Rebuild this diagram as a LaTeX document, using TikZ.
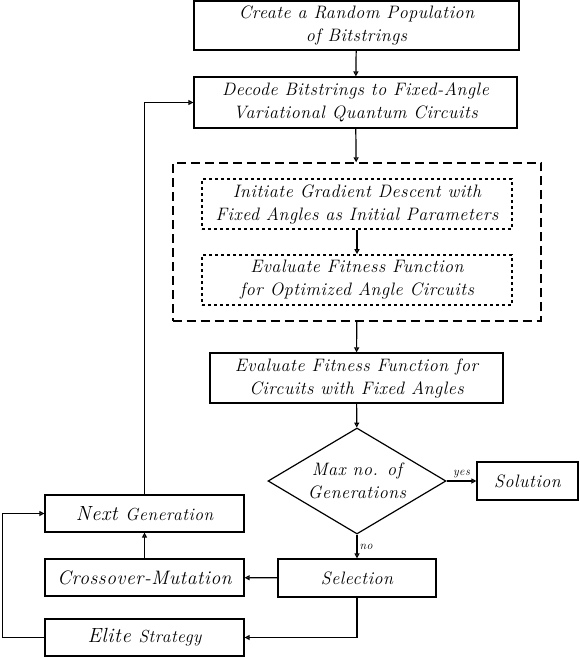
\documentclass[tikz,border=0pt]{standalone}
\usepackage{amsmath}
\usepackage{fontspec}
\setmainfont{Latin Modern Roman}[LetterSpace=3]
\usepackage{tikz}
\usetikzlibrary{shapes.geometric, arrows.meta, positioning, fit, calc}

\begin{document}
\begin{tikzpicture}[
    x=1pt, y=-1pt,
    box/.style={rectangle, draw, line width=1.2pt, align=center, inner sep=0pt, font=\fontsize{18}{23}\selectfont\itshape},
    dotbox/.style={box, dash pattern=on 3pt off 3pt, line width=1.6pt},
    group/.style={rectangle, draw, dash pattern=on 9pt off 5pt, line width=1.8pt, inner xsep=28.5pt, inner ysep=15pt},
    decision/.style={diamond, draw, line width=1.2pt, align=center, inner sep=0pt, aspect=1.68, minimum width=178pt, minimum height=106pt, font=\fontsize{18}{23}\selectfont\itshape},
    arrow/.style={-{Triangle[open,length=5pt,width=5pt]}, line width=1.2pt},
    lbl/.style={font=\fontsize{12}{13}\selectfont\itshape, inner sep=2pt}
]
\useasboundingbox (0,0) rectangle (580,658);

% main column
\node[box, minimum width=325pt, minimum height=49pt] (create) at (356.5,25.5) {Create a Random Population\\of Bitstrings};
\node[box, minimum width=323pt, minimum height=51pt] (decode) at (355.5,102.5) {Decode Bitstrings to Fixed-Angle\\Variational Quantum Circuits};
\node[dotbox, minimum width=310pt, minimum height=50pt] (init) at (357,204) {Initiate Gradient Descent with\\Fixed Angles as Initial Parameters};
\node[dotbox, minimum width=310pt, minimum height=50pt] (evalopt) at (357,280) {Evaluate Fitness Function\\for Optimized Angle Circuits};
\node[group, fit=(init)(evalopt)] (gradient) {};
\node[box, minimum width=293pt, minimum height=50pt] (evalfix) at (356.5,378) {Evaluate Fitness Function for\\Circuits with Fixed Angles};
\node[decision] (maxgen) at (357,481) {Max no. of\\Generations};
\node[box, minimum width=101pt, minimum height=38pt] (solution) at (527.5,481) {Solution};
\node[box, minimum width=158pt, minimum height=38pt] (selection) at (357,578) {Selection};

% left column
\node[box, minimum width=199pt, minimum height=37pt] (nextgen) at (144.5,513.5) {\fontsize{20.5}{23}\selectfont Next {\fontsize{17.5}{23}\selectfont Generation}};
\node[box, minimum width=199pt, minimum height=37pt] (crossmut) at (144.5,577.5) {\fontsize{19.5}{23}\selectfont Crossover-Mutation};
\node[box, minimum width=199pt, minimum height=37pt] (elite) at (144.5,637.5) {\fontsize{20.5}{23}\selectfont Elite {\fontsize{17.5}{23}\selectfont Strategy}};

\draw[arrow] (create) -- (decode);
\draw[arrow] (decode) -- (gradient);
\draw[arrow] (init) -- (evalopt);
\draw[arrow] (gradient) -- (evalfix);
\draw[arrow] (evalfix) -- (maxgen);
\draw[arrow] (maxgen) -- node[lbl, above] {yes} (solution);
\draw[arrow] (maxgen) -- node[lbl, right] {no} (selection);
\draw[arrow] (selection) -- (crossmut);
\draw[arrow] (crossmut) -- (nextgen);
\draw[arrow] (selection.south) |- (elite.east);
\draw[arrow] (elite.west) -- ++(-42,0) |- (nextgen.west);
\draw[arrow] (nextgen.north) |- (decode.west);

\end{tikzpicture}
\end{document}
